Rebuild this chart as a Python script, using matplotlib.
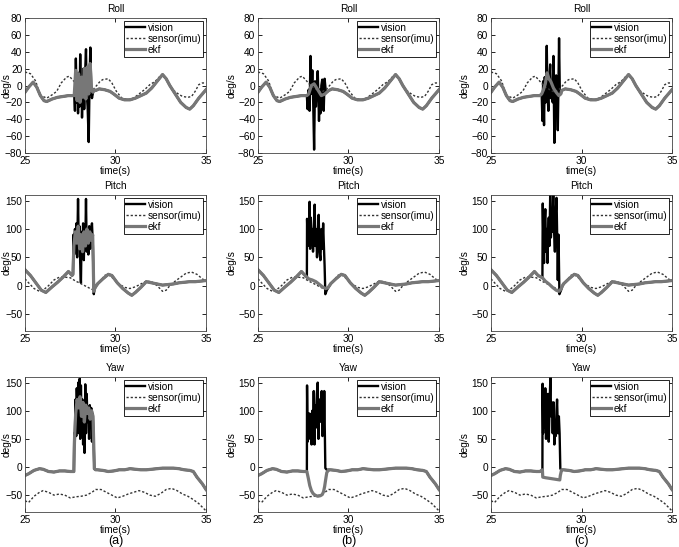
"""Roll / pitch / yaw rates: vision vs imu vs ekf, three runs side by side."""

import numpy as np
import matplotlib
matplotlib.use("Agg")
import matplotlib.pyplot as plt

plt.rcParams["font.family"] = ["Liberation Sans", "DejaVu Sans"]

# ---- shared signals (same imu and filter outside the vision burst) ----
roll_imu_t = [25.0, 25.3, 25.6, 25.8, 26.2, 26.5, 26.75, 27.0, 27.3, 27.45, 27.7, 27.95,
              28.25, 28.5, 28.8, 29.0, 29.15, 29.3, 29.6, 29.8, 30.05, 30.35, 30.7, 31.0,
              31.3, 31.6, 31.9, 32.2, 32.5, 32.6, 32.8, 33.1, 33.4, 33.7, 34.0, 34.2,
              34.4, 34.6, 34.8, 35.0]
roll_imu = [16, 14, 5, -11, -15, -11, -7, 3, 10, 11, 5, -1, -5, -8, -4, 1, 5, 7, 8, 3,
            -7, -15, -17, -15, -10, -5, 1, 5, 12, 13, 7, -4, -9, -13, -14, -13, -7, 1, 3, 3]
roll_ekf_t = [25.0, 25.2, 25.45, 25.65, 25.85, 26.05, 26.2, 26.5, 26.8, 27.1, 27.4, 27.7,
              28.9, 29.1, 29.4, 29.7, 29.9, 30.2, 30.5, 30.8, 31.1, 31.4, 31.7, 32.0,
              32.3, 32.6, 32.8, 33.0, 33.3, 33.6, 33.9, 34.1, 34.3, 34.6, 35.0]
roll_ekf = [-8, -2, 4, -2, -12, -18, -19, -16, -14, -13, -12, -12,
            -6, -4, -5, -7, -10, -15, -17, -17, -15, -12, -9, -3,
            5, 13, 8, 0, -10, -20, -26, -28, -24, -15, -5]

pitch_imu_t = [25.0, 25.2, 25.5, 25.8, 26.0, 26.3, 26.6, 26.9, 27.2, 27.5, 27.8, 28.0,
               28.3, 28.6, 28.8, 29.1, 29.4, 29.6, 29.9, 30.2, 30.5, 30.8, 31.1, 31.4,
               31.7, 32.0, 32.3, 32.6, 32.8, 33.0, 33.3, 33.6, 33.9, 34.2, 34.5, 34.8, 35.0]
pitch_imu = [12, 5, -5, -10, -8, 0, 10, 15, 15, 14, 8, 5, 0, -5, -8, 5, 18, 20, 12, 3,
             -3, -5, -2, 3, 8, 7, 0, -10, -8, 0, 8, 15, 22, 24, 20, 12, 8]
pitch_ekf_t = [25.0, 25.3, 25.6, 25.9, 26.15, 26.5, 26.8, 27.1, 27.4, 27.6,
               29.0, 29.3, 29.6, 29.8, 30.1, 30.4, 30.7, 30.9, 31.1, 31.4, 31.7, 32.0,
               32.3, 32.6, 32.9, 33.2, 33.5, 33.8, 34.1, 34.4, 34.7, 35.0]
pitch_ekf = [28, 18, 5, -8, -12, -2, 6, 15, 25, 18,
             3, 12, 20, 18, 5, -5, -13, -17, -12, -3, 7, 5,
             3, 1, 2, 3, 5, 6, 7, 7, 8, 9]

yaw_imu_t = [25.0, 25.2, 25.5, 25.8, 26.0, 26.3, 26.6, 26.9, 27.2, 27.5, 27.8, 28.1,
             28.4, 28.7, 28.9, 29.2, 29.5, 29.8, 30.1, 30.4, 30.7, 31.0, 31.3, 31.6,
             31.9, 32.2, 32.5, 32.8, 33.1, 33.4, 33.7, 34.0, 34.3, 34.6, 35.0]
yaw_imu = [-60, -63, -52, -45, -42, -45, -50, -48, -50, -55, -53, -52, -50, -45, -40,
           -40, -45, -50, -55, -52, -48, -45, -42, -45, -50, -52, -47, -40, -38, -42,
           -48, -52, -58, -65, -78]
yaw_ekf_t = [25.0, 25.2, 25.5, 25.8, 26.0, 26.3, 26.6, 26.9, 27.2, 27.5, 27.7,
             29.0, 29.3, 29.6, 29.9, 30.2, 30.5, 30.8, 31.1, 31.4, 31.7, 32.0, 32.3,
             32.6, 32.9, 33.2, 33.5, 33.8, 34.1, 34.3, 34.5, 34.8, 35.0]
yaw_ekf = [-15, -12, -6, -3, -4, -8, -9, -7, -7, -8, -8,
           -5, -6, -8, -7, -5, -5, -3, -4, -5, -5, -4, -3,
           -2, -2, -2, -3, -5, -6, -8, -18, -30, -40]

# ---- burst segments per run: (vision t, vision, ekf t, ekf) ----
roll_bursts = [
    ([27.72, 27.76, 27.81, 27.86, 27.9, 27.93, 27.97, 28.01, 28.05, 28.09, 28.12, 28.15,
      28.19, 28.23, 28.27, 28.31, 28.37, 28.41, 28.46, 28.52, 28.57, 28.61, 28.66, 28.7,
      28.76, 28.82],
     [-12, -30, 32, -20, 10, -33, 15, -25, 37, -15, 5, -38, 0, 20, -28, 8, 43, -10, -25,
      -67, 10, 45, -5, -15, -8, -5],
     [27.72, 27.8, 27.88, 27.96, 28.04, 28.12, 28.2, 28.28, 28.36, 28.44, 28.52, 28.6,
      28.68, 28.76, 28.82],
     [-12, 18, -18, 14, -20, 10, -14, 20, -16, 22, -10, 26, -6, -8, -5]),
    ([27.7, 27.74, 27.8, 27.85, 27.9, 27.95, 28.0, 28.05, 28.1, 28.15, 28.2, 28.25, 28.3,
      28.34, 28.37, 28.41, 28.45, 28.5, 28.55, 28.6, 28.63, 28.68, 28.75, 28.85],
     [-12, -28, -5, -30, 35, -10, 18, -20, -76, 5, -25, 0, 17, -15, -42, -5, -33, 0, 7,
      -20, -30, 8, -8, -7],
     [27.7, 27.8, 27.95, 28.1, 28.3, 28.5, 28.7, 28.85],
     [-12, -10, 0, 2, -5, -12, -10, -7]),
    ([27.8, 27.84, 27.88, 27.93, 27.97, 28.02, 28.08, 28.12, 28.17, 28.22, 28.27, 28.31,
      28.36, 28.41, 28.45, 28.5, 28.55, 28.6, 28.65, 28.69, 28.73, 28.76, 28.8, 28.86],
     [-10, -42, 5, -47, 10, -20, 47, -10, -30, 5, 25, -15, 0, -20, 35, -68, 0, 12, -25,
      -53, 5, 56, -5, -10],
     [27.8, 27.9, 28.0, 28.1, 28.2, 28.3, 28.45, 28.6, 28.75, 28.86],
     [-10, -5, 2, 15, 8, 5, -3, -8, -12, -10]),
]

pitch_bursts = [
    ([27.65, 27.68, 27.72, 27.76, 27.8, 27.84, 27.88, 27.93, 27.97, 28.01, 28.05, 28.09,
      28.13, 28.17, 28.21, 28.25, 28.29, 28.33, 28.37, 28.41, 28.45, 28.5, 28.55, 28.6,
      28.65, 28.7, 28.75, 28.8, 28.85],
     [20, 90, 55, 100, 60, 110, 50, 153, 70, 105, 40, 5, 95, 60, 110, 45, 100, 70, 153,
      60, 100, 55, 105, 65, 95, 110, 70, -15, -5],
     [27.65, 27.7, 27.78, 27.86, 27.94, 28.02, 28.1, 28.18, 28.26, 28.34, 28.42, 28.5,
      28.58, 28.66, 28.74, 28.8, 28.85],
     [20, 70, 95, 75, 105, 65, 90, 60, 95, 70, 100, 75, 95, 80, 90, -10, -5]),
    ([27.7, 27.71, 27.75, 27.79, 27.83, 27.85, 27.88, 27.92, 27.96, 28.0, 28.04, 28.08,
      28.13, 28.17, 28.22, 28.26, 28.3, 28.35, 28.4, 28.45, 28.5, 28.55, 28.6, 28.63,
      28.68, 28.72, 28.8, 28.95],
     [15, 118, 70, 110, 90, 148, 65, 120, 75, 100, 60, 95, 143, 70, 100, 50, 90, 125, 60,
      45, 100, 65, 110, 80, 35, -15, -8, 0],
     [27.7, 27.8, 28.0, 28.2, 28.4, 28.6, 28.75, 28.85, 28.95],
     [15, 12, 10, 7, 2, -3, -5, -4, 0]),
    ([27.6, 27.84, 27.86, 27.9, 27.93, 27.97, 28.0, 28.04, 28.08, 28.12, 28.15, 28.19,
      28.23, 28.27, 28.31, 28.35, 28.39, 28.44, 28.48, 28.53, 28.57, 28.62, 28.66, 28.69,
      28.73, 28.78, 28.87, 28.95],
     [18, 14, 145, 70, 40, 115, 135, 60, 100, 40, 85, 120, 70, 160, 85, 120, 95, 160, 100,
      60, 125, 155, 80, 10, 90, -15, -8, 0],
     [27.6, 27.84, 28.0, 28.2, 28.4, 28.6, 28.75, 28.87, 28.95],
     [18, 14, 8, 3, -3, -8, -10, -6, 0]),
]

yaw_bursts = [
    ([27.7, 27.72, 27.75, 27.79, 27.83, 27.86, 27.9, 27.94, 27.98, 28.02, 28.05, 28.09,
      28.13, 28.17, 28.21, 28.25, 28.29, 28.33, 28.37, 28.41, 28.45, 28.5, 28.54, 28.58,
      28.62, 28.66, 28.7, 28.74, 28.78, 28.83, 28.9],
     [-8, 60, 40, 120, 55, 140, 80, 150, 60, 157, 50, 145, 70, 120, 40, 110, 25, 147, 60,
      130, 80, 105, 50, 110, 70, 105, 45, 95, 60, -3, -5],
     [27.7, 27.74, 27.8, 27.88, 27.96, 28.04, 28.12, 28.2, 28.28, 28.36, 28.44, 28.52,
      28.6, 28.68, 28.76, 28.83, 28.9],
     [-8, 55, 95, 120, 105, 125, 90, 115, 80, 110, 95, 105, 85, 100, 90, -3, -5]),
    ([27.7, 27.71, 27.74, 27.78, 27.82, 27.85, 27.88, 27.92, 27.96, 28.0, 28.04, 28.08,
      28.12, 28.16, 28.2, 28.25, 28.3, 28.34, 28.38, 28.42, 28.46, 28.52, 28.56, 28.6,
      28.63, 28.66, 28.72, 28.8, 28.9],
     [-8, 145, 45, 95, 60, 95, 50, 85, 40, 100, 55, 135, 40, 110, 70, 130, 150, 50, 120,
      80, 100, 135, 55, 90, 60, 135, -2, -5, -5],
     [27.7, 27.78, 27.86, 27.95, 28.04, 28.15, 28.3, 28.45, 28.55, 28.62, 28.68, 28.74,
      28.8, 28.9],
     [-8, -20, -33, -42, -47, -50, -52, -51, -49, -44, -35, -22, -10, -5]),
    ([27.7, 27.84, 27.85, 27.88, 27.92, 27.96, 28.0, 28.04, 28.08, 28.12, 28.15, 28.19,
      28.23, 28.28, 28.32, 28.36, 28.41, 28.46, 28.5, 28.54, 28.58, 28.62, 28.65, 28.7,
      28.75, 28.79, 28.83, 28.9],
     [-8, -5, 148, 60, 120, 70, 140, 50, 110, 75, 130, 45, 100, 160, 90, 115, 60, 115, 40,
      80, 55, 100, 120, 60, 90, 60, -3, -5],
     [27.7, 27.84, 27.86, 28.0, 28.2, 28.4, 28.6, 28.8, 28.83, 28.9],
     [-8, -5, -18, -19, -20, -21, -22, -23, -15, -5]),
]

rows = [
    ("Roll", roll_imu_t, roll_imu, roll_ekf_t, roll_ekf, roll_bursts,
     (-80, 80), np.arange(-80, 81, 20)),
    ("Pitch", pitch_imu_t, pitch_imu, pitch_ekf_t, pitch_ekf, pitch_bursts,
     (-80, 160), [-50, 0, 50, 100, 150]),
    ("Yaw", yaw_imu_t, yaw_imu, yaw_ekf_t, yaw_ekf, yaw_bursts,
     (-80, 160), [-50, 0, 50, 100, 150]),
]
panel_labels = ["(a)", "(b)", "(c)"]


def splice(base_t, base_v, seg_t, seg_v):
    """Replace the part of the base signal covered by seg_t with the segment."""
    bt, bv = np.asarray(base_t, float), np.asarray(base_v, float)
    pre, post = bt < seg_t[0], bt > seg_t[-1]
    return (np.concatenate([bt[pre], seg_t, bt[post]]),
            np.concatenate([bv[pre], seg_v, bv[post]]))


W, H = 679, 547
fig = plt.figure(figsize=(W / 100, H / 100), dpi=100)
col_left = [25, 258, 491]
row_top = [18, 195, 377]
row_bot = [153, 331, 512]
aw = 181
fs = 7.3

for r, (name, imu_t, imu, ekf_t, ekf, bursts, ylim, yt) in enumerate(rows):
    for c in range(3):
        ax = fig.add_axes([col_left[c] / W, 1 - row_bot[r] / H, aw / W,
                           (row_bot[r] - row_top[r]) / H])
        vt, vv, et, ev = bursts[c]
        vis_t, vis = splice(ekf_t, ekf, vt, vv)
        kf_t, kf = splice(ekf_t, ekf, et, ev)
        ax.plot(vis_t, vis, color="black", lw=1.7, label="vision")
        ax.plot(imu_t, imu, color="#333333", lw=1.0, ls=(0, (1.6, 1.4)),
                label="sensor(imu)")
        ax.plot(kf_t, kf, color="#777777", lw=2.3, label="ekf")
        ax.set_xlim(25, 35)
        ax.set_ylim(*ylim)
        ax.set_xticks([25, 30, 35])
        ax.set_yticks(yt)
        ax.tick_params(direction="in", top=True, right=True, length=3,
                       width=0.6, labelsize=fs, pad=2)
        for s in ax.spines.values():
            s.set_linewidth(0.6)
            s.set_color("#444444")
        ax.set_title(name, fontsize=fs, pad=4)
        ax.set_xlabel("time(s)", fontsize=fs, labelpad=0)
        ax.set_ylabel("deg/s", fontsize=fs, labelpad=1)
        if c == 0:
            # first column sits against the page edge: pull the label in
            ax.yaxis.set_label_coords(-13.5 / aw, 0.5)
        leg = ax.legend(loc="upper right", fontsize=fs, handlelength=1.9,
                        borderaxespad=0.25, borderpad=0.2, labelspacing=0.1,
                        handletextpad=0.25, fancybox=False, framealpha=1)
        leg.get_frame().set_edgecolor("black")
        leg.get_frame().set_linewidth(0.6)

for c, lab in enumerate(panel_labels):
    fig.text((col_left[c] + aw / 2) / W, 1 - 535 / H, lab, ha="center", va="top",
             fontsize=9)

fig.savefig("out.png", dpi=100)
